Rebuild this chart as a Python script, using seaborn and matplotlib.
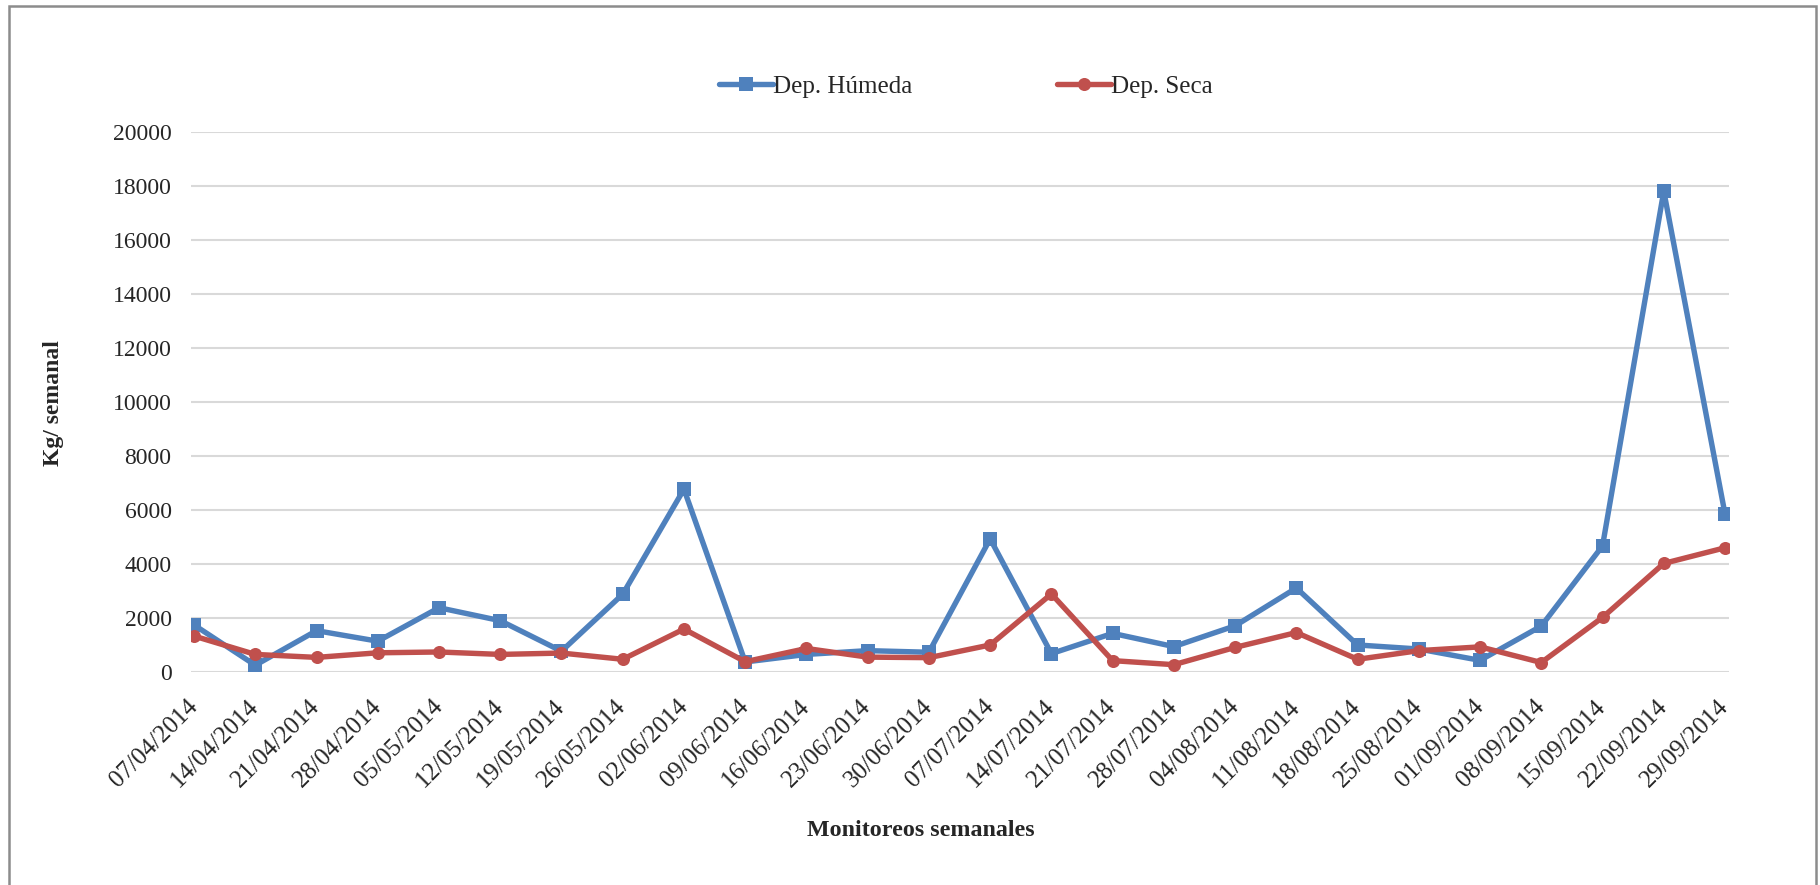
import matplotlib
matplotlib.use("Agg")
import matplotlib.pyplot as plt
from matplotlib.patches import Rectangle
from matplotlib.lines import Line2D
import pandas as pd
import seaborn as sns

fechas = [
    "07/04/2014", "14/04/2014", "21/04/2014", "28/04/2014", "05/05/2014",
    "12/05/2014", "19/05/2014", "26/05/2014", "02/06/2014", "09/06/2014",
    "16/06/2014", "23/06/2014", "30/06/2014", "07/07/2014", "14/07/2014",
    "21/07/2014", "28/07/2014", "04/08/2014", "11/08/2014", "18/08/2014",
    "25/08/2014", "01/09/2014", "08/09/2014", "15/09/2014", "22/09/2014",
    "29/09/2014",
]
dep_humeda = [
    1730, 240, 1520, 1130, 2370, 1890, 760, 2870, 6760, 360,
    640, 780, 720, 4920, 670, 1420, 930, 1700, 3100, 990,
    840, 420, 1690, 4660, 17800, 5840,
]
dep_seca = [
    1320, 640, 530, 700, 730, 640, 690, 460, 1580, 370,
    860, 540, 520, 990, 2880, 410, 260, 900, 1450, 460,
    780, 920, 340, 2010, 4010, 4590,
]
y_ticks = [0, 2000, 4000, 6000, 8000, 10000, 12000, 14000, 16000, 18000, 20000]

series_names = ["Dep. Húmeda", "Dep. Seca"]
palette = {"Dep. Húmeda": "#4F81BD", "Dep. Seca": "#C0504D"}
markers = {"Dep. Húmeda": "s", "Dep. Seca": "o"}

df = pd.DataFrame({
    "idx": list(range(len(fechas))) * 2,
    "valor": dep_humeda + dep_seca,
    "serie": [series_names[0]] * len(fechas) + [series_names[1]] * len(fechas),
})

sns.set_theme(style="white")
SERIF = ["Liberation Serif", "DejaVu Serif"]
plt.rcParams["font.family"] = SERIF

LW = 3.9
MS = 9.4

W, H = 1820, 885
fig = plt.figure(figsize=(W / 100, H / 100), dpi=100)
ax = fig.add_axes([191 / W, 1 - 671.7 / H, (1729 - 191) / W, (671.7 - 131.7) / H])

sns.lineplot(
    data=df, x="idx", y="valor", hue="serie", style="serie",
    palette=palette, markers=markers, dashes=False,
    linewidth=LW, markersize=MS, markeredgewidth=0,
    ax=ax, legend=False, zorder=3,
)

ax.set_xlim(-0.05, 25.065)
ax.set_ylim(0, 20000)
ax.set_yticks(y_ticks)
ax.set_yticklabels([str(v) for v in y_ticks], fontsize=17, family=SERIF)
ax.set_xticks(range(len(fechas)))
ax.set_xticklabels(fechas, rotation=45, ha="right", va="center",
                   rotation_mode="anchor", fontsize=18, family=SERIF)
ax.tick_params(axis="x", length=0, pad=23)
ax.tick_params(axis="y", length=0, pad=14)
ax.yaxis.grid(True, color="#D9D9D9", linewidth=1.5, zorder=0)
ax.xaxis.grid(False)
for side in ["left", "right", "top", "bottom"]:
    ax.spines[side].set_visible(False)
ax.set_xlabel("")
ax.set_ylabel("")

# axis titles
fig.text(921 / W, 1 - 831 / H, "Monitoreos semanales", ha="center", va="center",
         fontsize=17.3, fontweight="bold", family=SERIF)
fig.text(53 / W, 1 - 403 / H, "Kg/ semanal", ha="center", va="center", rotation=90,
         fontsize=17, fontweight="bold", family=SERIF)

# legend across the top of the plot
handles = [
    Line2D([0], [0], color=palette[n], marker=markers[n], linewidth=LW,
           markersize=MS, markeredgewidth=0)
    for n in series_names
]
fig.legend(handles, series_names, loc="center", bbox_to_anchor=(966 / W, 1 - 86.7 / H),
           ncol=2, frameon=False, prop={"family": SERIF, "size": 18},
           handlelength=2.15, handletextpad=0.0, columnspacing=5.8)

# outer chart frame
fig.patches.append(Rectangle((9 / W, -0.05), (1816 - 9) / W, 1.05 - 6 / H,
                             transform=fig.transFigure, fill=False,
                             edgecolor="#8C8C8C", linewidth=1.8, clip_on=False))

fig.savefig("out.png", dpi=100, facecolor="white")
